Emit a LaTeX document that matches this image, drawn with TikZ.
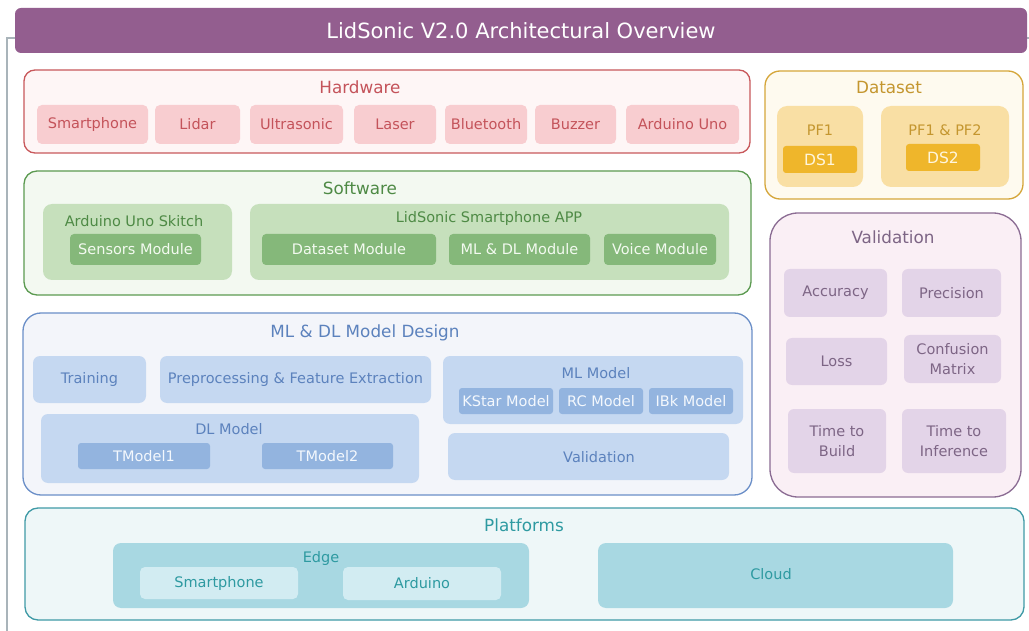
\documentclass[tikz,border=0pt]{standalone}
\usepackage{fontspec}
\setmainfont{DejaVu Sans}
\definecolor{titlefill}{HTML}{935E8F}
\definecolor{railgray}{HTML}{A9B4BA}
\definecolor{hwborder}{HTML}{C8585B}
\definecolor{hwfill}{HTML}{FEF6F6}
\definecolor{hwitem}{HTML}{F8CDD0}
\definecolor{hwtext}{HTML}{C4535A}
\definecolor{swborder}{HTML}{5B9A50}
\definecolor{swfill}{HTML}{F3F9F1}
\definecolor{swinner}{HTML}{C6E0BC}
\definecolor{swmod}{HTML}{85B87A}
\definecolor{swtext}{HTML}{4E8A45}
\definecolor{swmodtext}{HTML}{F3FAF0}
\definecolor{mlborder}{HTML}{6B8FC8}
\definecolor{mlfill}{HTML}{F3F5FA}
\definecolor{mlinner}{HTML}{C5D8F1}
\definecolor{mlmod}{HTML}{93B4DF}
\definecolor{mltext}{HTML}{5C82BD}
\definecolor{mlmodtext}{HTML}{F4F8FD}
\definecolor{valborder}{HTML}{8B6C93}
\definecolor{valfill}{HTML}{FAEFF5}
\definecolor{valinner}{HTML}{E3D4E8}
\definecolor{valtext}{HTML}{7D6585}
\definecolor{dsborder}{HTML}{D5A63A}
\definecolor{dsfill}{HTML}{FEFAEF}
\definecolor{dsinner}{HTML}{F9DFA4}
\definecolor{dsmod}{HTML}{EFB62B}
\definecolor{dstext}{HTML}{C4962F}
\definecolor{dsmodtext}{HTML}{FFF6DD}
\definecolor{plborder}{HTML}{3F9AA6}
\definecolor{plfill}{HTML}{EEF7F8}
\definecolor{plinner}{HTML}{A8D8E2}
\definecolor{plitem}{HTML}{D2ECF2}
\definecolor{pltext}{HTML}{2E9AA1}
% box from (x1,y1) to (x2,y2): name, style, x1, y1, x2, y2, text
\newcommand\rbox[7]{\node[#2, inner sep=0pt, outer sep=0pt,
  minimum width={#5pt-#3pt}, minimum height={#6pt-#4pt},
  anchor=north west] (#1) at (#3,#4) {#7};}
\begin{document}
\begin{tikzpicture}[x=1pt,y=-1pt,
  itemfont/.style={font=\fontsize{14.5}{20}\selectfont, align=center},
  headfont/.style={font=\fontsize{16.8}{20}\selectfont},
  titlebar/.style={fill=titlefill, rounded corners=6pt, text=white,
    font=\fontsize{21}{24}\selectfont},
  railline/.style={draw=railgray, line width=1.2pt},
  hwpanel/.style={draw=hwborder, fill=hwfill, line width=1.3pt, rounded corners=11pt},
  hwbox/.style={fill=hwitem, rounded corners=5pt, text=hwtext, itemfont},
  hwhead/.style={text=hwtext, headfont},
  swpanel/.style={draw=swborder, fill=swfill, line width=1.3pt, rounded corners=13pt},
  swgroup/.style={fill=swinner, rounded corners=9pt},
  swbox/.style={fill=swmod, rounded corners=4pt, text=swmodtext, itemfont},
  swhead/.style={text=swtext, headfont},
  swsub/.style={text=swtext, itemfont},
  mlpanel/.style={draw=mlborder, fill=mlfill, line width=1.3pt, rounded corners=18pt},
  mlgroup/.style={fill=mlinner, rounded corners=7pt, text=mltext, itemfont},
  mlbox/.style={fill=mlmod, rounded corners=3pt, text=mlmodtext, itemfont},
  mlhead/.style={text=mltext, headfont},
  mlsub/.style={text=mltext, itemfont},
  valpanel/.style={draw=valborder, fill=valfill, line width=1.3pt, rounded corners=28pt},
  valbox/.style={fill=valinner, rounded corners=6pt, text=valtext, itemfont},
  valhead/.style={text=valtext, headfont},
  dspanel/.style={draw=dsborder, fill=dsfill, line width=1.3pt, rounded corners=15pt},
  dsgroup/.style={fill=dsinner, rounded corners=10pt},
  dsbox/.style={fill=dsmod, rounded corners=3pt, text=dsmodtext,
    font=\fontsize{15.5}{18}\selectfont},
  dshead/.style={text=dstext, headfont},
  dssub/.style={text=dstext, itemfont},
  plpanel/.style={draw=plborder, fill=plfill, line width=1.3pt, rounded corners=13pt},
  plgroup/.style={fill=plinner, rounded corners=8pt, text=pltext, itemfont},
  plbox/.style={fill=plitem, rounded corners=5pt, text=pltext, itemfont},
  plhead/.style={text=pltext, headfont},
  plsub/.style={text=pltext, itemfont}]
\useasboundingbox (0,0) rectangle (1029,631);
\fill[white] (0,0) rectangle (1029,631);

% title bar and the rail along the left edge
\coordinate (railend) at (7,631);
\coordinate (railtick) at (1029,38);
\draw[railline] (15,38) -| (railend);
\draw[railline] (1027,38) -- (railtick);
\rbox{title}{titlebar}{15}{8}{1027}{53}{LidSonic V2.0 Architectural Overview}

% Hardware
\rbox{hw}{hwpanel}{24}{70}{750}{153}{}
\node[hwhead] (hwtitle) at (360,87) {Hardware};
\rbox{hw1}{hwbox}{37}{105}{148}{144}{Smartphone}
\rbox{hw2}{hwbox}{155}{105}{240}{144}{Lidar}
\rbox{hw3}{hwbox}{250}{105}{343}{144}{Ultrasonic}
\rbox{hw4}{hwbox}{354}{105}{436}{144}{Laser}
\rbox{hw5}{hwbox}{445}{105}{527}{144}{Bluetooth}
\rbox{hw6}{hwbox}{535}{105}{616}{144}{Buzzer}
\rbox{hw7}{hwbox}{626}{105}{739}{144}{Arduino Uno}

% Dataset
\rbox{ds}{dspanel}{765}{71}{1023}{199}{}
\node[dshead] (dstitle) at (889,87) {Dataset};
\rbox{pf1}{dsgroup}{777}{106}{863}{187}{}
\node[dssub] (pf1label) at (820,130) {PF1};
\rbox{ds1}{dsbox}{783}{146}{857}{173}{DS1}
\rbox{pf2}{dsgroup}{881}{106}{1009}{187}{}
\node[dssub] (pf2label) at (945,130) {PF1 \& PF2};
\rbox{ds2}{dsbox}{906}{144}{980}{171}{DS2}

% Software
\rbox{sw}{swpanel}{24}{171}{751}{295}{}
\node[swhead] (swtitle) at (360,188) {Software};
\rbox{ard}{swgroup}{43}{204}{232}{280}{}
\node[swsub] (ardlabel) at (134,221) {Arduino Uno Skitch};
\rbox{sens}{swbox}{70}{234}{201}{265}{Sensors Module}
\rbox{app}{swgroup}{250}{204}{729}{280}{}
\node[swsub] (applabel) at (489,219) {LidSonic Smartphone APP};
\rbox{dsm}{swbox}{262}{234}{436}{265}{Dataset Module}
\rbox{mldl}{swbox}{449}{234}{590}{265}{ML \& DL Module}
\rbox{voice}{swbox}{604}{234}{716}{265}{Voice Module}

% ML & DL model design
\rbox{ml}{mlpanel}{23}{313}{752}{495}{}
\node[mlhead] (mltitle) at (365,333) {ML \& DL Model Design};
\rbox{train}{mlgroup}{33}{356}{146}{403}{Training}
\rbox{prep}{mlgroup}{160}{356}{431}{403}{Preprocessing \& Feature Extraction}
\rbox{dl}{mlgroup}{41}{414}{419}{483}{}
\node[mlsub] (dllabel) at (229,429) {DL Model};
\rbox{tm1}{mlbox}{78}{443}{210}{469}{TModel1}
\rbox{tm2}{mlbox}{262}{443}{393}{469}{TModel2}
\rbox{mlm}{mlgroup}{443}{356}{743}{424}{}
\node[mlsub] (mlmlabel) at (596,373) {ML Model};
\rbox{kstar}{mlbox}{459}{388}{553}{414}{KStar Model}
\rbox{rc}{mlbox}{559}{388}{643}{414}{RC Model}
\rbox{ibk}{mlbox}{649}{388}{733}{414}{IBk Model}
\rbox{mlval}{mlgroup}{448}{433}{729}{480}{}
\node[mlsub] (mlvallabel) at (599,457) {Validation};

% Validation
\rbox{val}{valpanel}{770}{213}{1021}{497}{}
\node[valhead] (valtitle) at (893,237) {Validation};
\rbox{acc}{valbox}{784}{269}{887}{317}{Accuracy}
\rbox{prec}{valbox}{902}{269}{1001}{317}{Precision}
\rbox{loss}{valbox}{786}{338}{887}{385}{Loss}
\rbox{conf}{valbox}{904}{335}{1001}{383}{Confusion\\Matrix}
\rbox{ttb}{valbox}{788}{409}{886}{473}{Time to\\Build}
\rbox{tti}{valbox}{902}{409}{1006}{473}{Time to\\Inference}

% Platforms
\rbox{pl}{plpanel}{25}{508}{1024}{620}{}
\node[plhead] (pltitle) at (524,525) {Platforms};
\rbox{edge}{plgroup}{113}{543}{529}{608}{}
\node[plsub] (edgelabel) at (321,558) {Edge};
\rbox{psm}{plbox}{140}{567}{298}{599}{Smartphone}
\rbox{pard}{plbox}{343}{567}{501}{600}{Arduino}
\rbox{cloud}{plgroup}{598}{543}{953}{608}{}
\node[plsub] (cloudlabel) at (771,574) {Cloud};
\end{tikzpicture}
\end{document}
